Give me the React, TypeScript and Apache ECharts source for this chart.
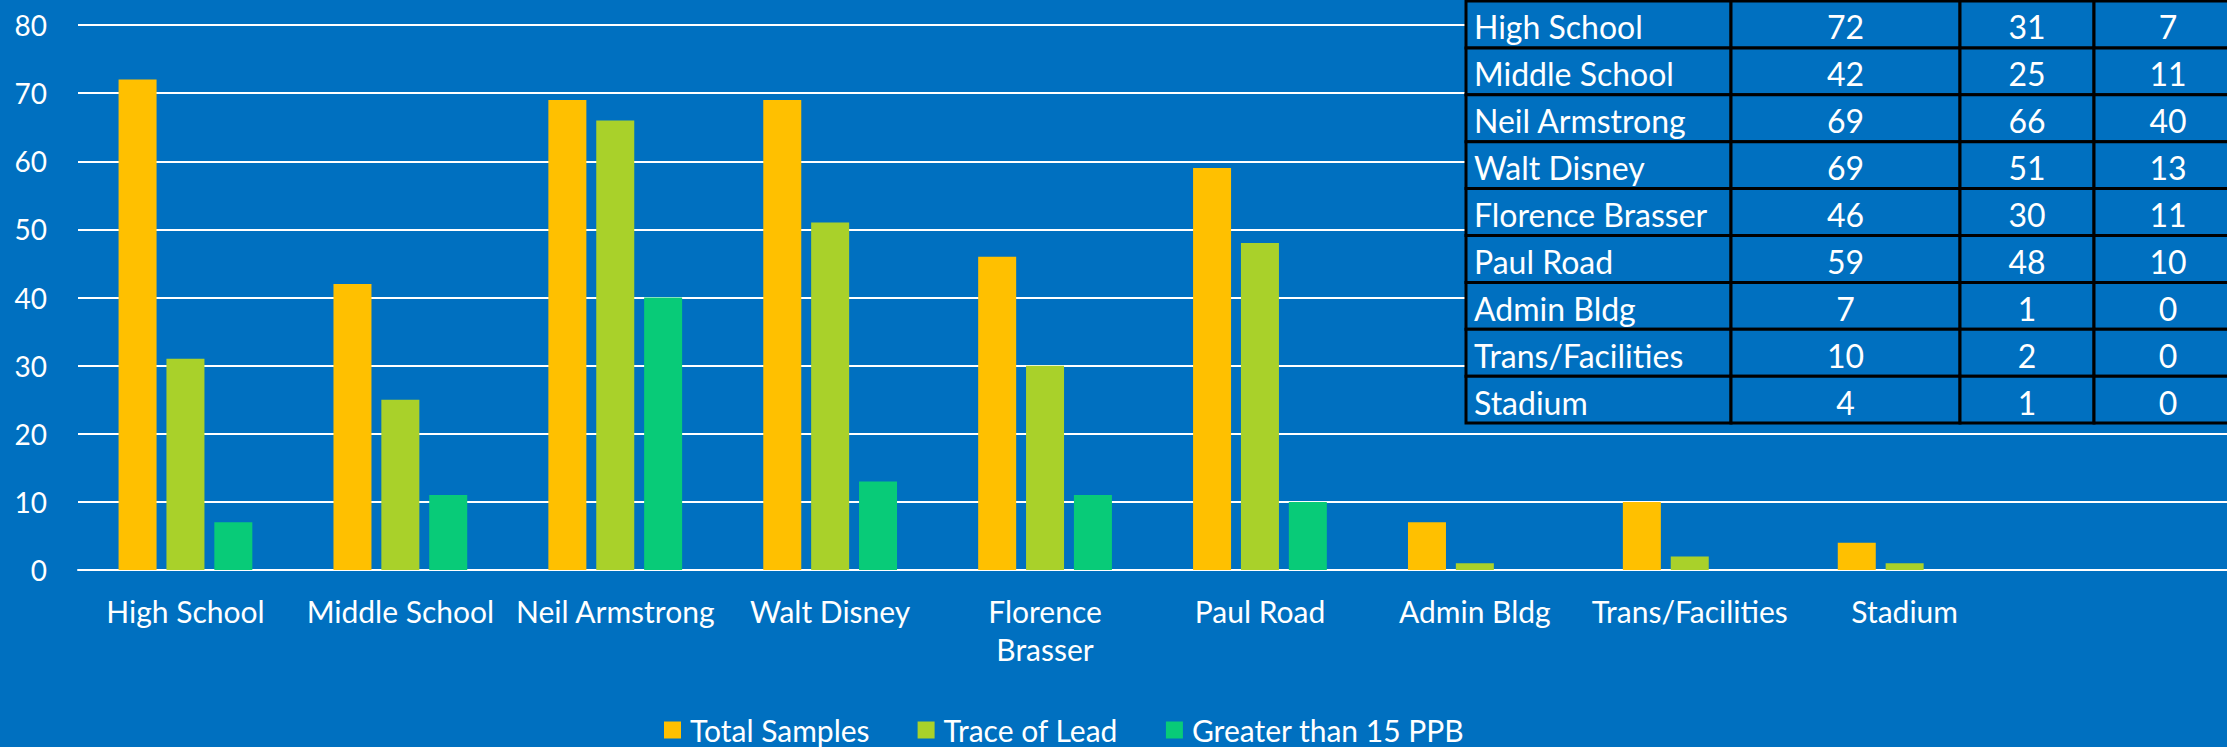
import React, { useEffect, useRef } from "react";
import * as echarts from "echarts";

const categories = [
  "High School",
  "Middle School",
  "Neil Armstrong",
  "Walt Disney",
  "Florence Brasser",
  "Paul Road",
  "Admin Bldg",
  "Trans/Facilities",
  "Stadium",
  "",
];
const totalSamples = [72, 42, 69, 69, 46, 59, 7, 10, 4];
const traceOfLead = [31, 25, 66, 51, 30, 48, 1, 2, 1];
const greaterThan15 = [7, 11, 40, 13, 11, 10, 0, 0, 0];
const seriesNames = ["Total Samples", "Trace of Lead", "Greater than 15 PPB"];
const yTicks = { min: 0, max: 80, interval: 10 };

const BG = "#0070C0";
const COLORS = ["#FFC000", "#A9D12A", "#08CB78"];
const FONT = "Lato, 'Open Sans', sans-serif";

function buildTable() {
  const colEdges = [1466, 1731, 1960, 2094, 2242];
  const top = 1;
  const rowH = 46.9;
  const rows = categories.filter((c) => c !== "").map((c, i) => [
    c,
    String(totalSamples[i]),
    String(traceOfLead[i]),
    String(greaterThan15[i]),
  ]);
  const children: any[] = [];
  rows.forEach((row, r) => {
    const y = top + r * rowH;
    row.forEach((cell, c) => {
      const x0 = colEdges[c];
      const x1 = colEdges[c + 1];
      children.push({
        type: "rect",
        shape: { x: x0, y, width: x1 - x0, height: rowH },
        style: { fill: BG, stroke: "#000000", lineWidth: 3 },
        z: 10,
      });
      children.push({
        type: "text",
        x: c === 0 ? x0 + 8 : (x0 + x1) / 2,
        y: y + rowH / 2 + 2.5,
        style: {
          text: cell,
          fill: "#ffffff",
          font: `32px ${FONT}`,
          align: c === 0 ? "left" : "center",
          verticalAlign: "middle",
        },
        z: 11,
      });
    });
  });
  return [{ type: "group", children, z: 10 }];
}

export default function App() {
  const ref = useRef<HTMLDivElement>(null);
  useEffect(() => {
    if (!ref.current) return;
    const chart = echarts.init(ref.current, undefined, { renderer: "svg" });
    const data = [totalSamples, traceOfLead, greaterThan15];
    chart.setOption({
      animation: false,
      backgroundColor: BG,
      grid: { left: 78, top: 25, width: 2168, height: 545, containLabel: false },
      legend: {
        data: seriesNames,
        left: 659,
        top: 710,
        itemWidth: 17,
        itemHeight: 17,
        itemGap: 48,
        icon: "rect",
        textStyle: { color: "#ffffff", fontSize: 30, fontFamily: FONT, padding: [0, 0, 0, 4] },
      },
      xAxis: {
        type: "category",
        data: categories,
        axisLine: { show: true, lineStyle: { color: "#ffffff", width: 2 } },
        axisTick: { show: false },
        axisLabel: {
          interval: 0,
          color: "#ffffff",
          fontSize: 30,
          fontFamily: FONT,
          lineHeight: 38,
          margin: 22,
          formatter: (v: string) => (v === "Florence Brasser" ? "Florence\nBrasser" : v),
        },
      },
      yAxis: {
        type: "value",
        min: yTicks.min,
        max: yTicks.max,
        interval: yTicks.interval,
        axisLine: { show: false },
        axisTick: { show: false },
        splitLine: { lineStyle: { color: "#ffffff", width: 2 } },
        axisLabel: { color: "#ffffff", fontSize: 28, fontFamily: FONT, margin: 31 },
      },
      series: seriesNames.map((name, i) => ({
        name,
        type: "bar",
        data: data[i],
        barWidth: 38,
        barGap: "26%",
        itemStyle: { color: COLORS[i] },
      })),
      graphic: buildTable(),
    });
    return () => chart.dispose();
  }, []);
  return (
    <div
      ref={ref}
      style={{ position: "fixed", left: 0, top: 0, width: 2227, height: 747 }}
    />
  );
}
